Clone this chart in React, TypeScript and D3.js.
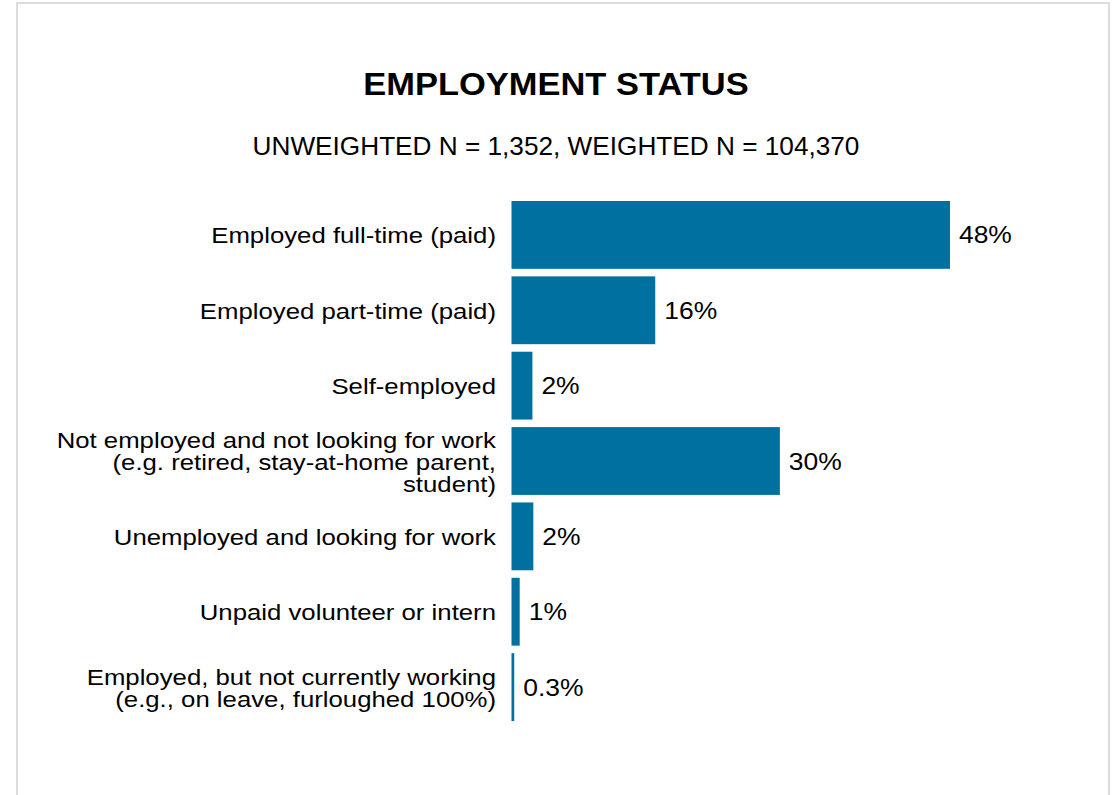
import React from "react";
import * as d3 from "d3";

const categories: string[][] = [
  ["Employed full-time (paid)"],
  ["Employed part-time (paid)"],
  ["Self-employed"],
  ["Not employed and not looking for work", "(e.g. retired, stay-at-home parent,", "student)"],
  ["Unemployed and looking for work"],
  ["Unpaid volunteer or intern"],
  ["Employed, but not currently working", "(e.g., on leave, furloughed 100%)"],
];
const values: number[] = [48.2, 15.8, 2.3, 29.5, 2.4, 0.9, 0.3];
const valueLabels: string[] = ["48%", "16%", "2%", "30%", "2%", "1%", "0.3%"];

const TITLE = "EMPLOYMENT STATUS";
const SUBTITLE = "UNWEIGHTED N = 1,352, WEIGHTED N = 104,370";

const W = 1114;
const H = 795;
const FONT = "Arial, 'Liberation Sans', sans-serif";
const BAR = "#0070a0";

function SText(props: {
  x: number;
  y: number;
  sx: number;
  size: number;
  anchor?: string;
  weight?: string;
  dy?: string;
  children: React.ReactNode;
}) {
  const { x, y, sx, size, anchor, weight, dy, children } = props;
  return (
    <text
      transform={`translate(${x},${y}) scale(${sx},1)`}
      x={0}
      y={0}
      dy={dy}
      textAnchor={anchor || "start"}
      fontSize={size}
      fontWeight={weight || "normal"}
      fill="#000"
    >
      {children}
    </text>
  );
}

export default function App() {
  const keys = categories.map((_, i) => String(i));
  const y = d3.scaleBand<string>().domain(keys).range([201, 721]).paddingInner(0.1).paddingOuter(0);
  const x = d3.scaleLinear().domain([0, 100]).range([511.5, 511.5 + 909.7]);
  const lineH = 22;

  return (
    <svg
      width={W}
      height={H}
      style={{ position: "absolute", left: 0, top: 0, display: "block", background: "#fff" }}
      fontFamily={FONT}
    >
      <rect x={17} y={3} width={1092} height={H + 10} fill="#fff" stroke="#dcdcdc" strokeWidth={2} />
      <SText x={556} y={95} sx={1.13} size={30.5} anchor="middle" weight="bold">
        {TITLE}
      </SText>
      <SText x={556} y={155} sx={1.0} size={26.2} anchor="middle">
        {SUBTITLE}
      </SText>
      {categories.map((lines, i) => {
        const k = keys[i];
        const y0 = y(k)!;
        const bw = y.bandwidth();
        const cy = y0 + bw / 2;
        const x0 = x(0);
        const x1 = x(values[i]);
        const n = lines.length;
        return (
          <g key={k}>
            <rect x={x0} y={y0} width={x1 - x0} height={bw} fill={BAR} />
            <SText x={x1 + 9} y={cy} sx={1.15} size={23} dy="0.37em">
              {valueLabels[i]}
            </SText>
            {lines.map((ln, j) => (
              <SText
                key={j}
                x={496}
                y={cy + (j - (n - 1) / 2) * lineH}
                sx={1.12}
                size={23}
                dy="0.37em"
                anchor="end"
              >
                {ln}
              </SText>
            ))}
          </g>
        );
      })}
    </svg>
  );
}
